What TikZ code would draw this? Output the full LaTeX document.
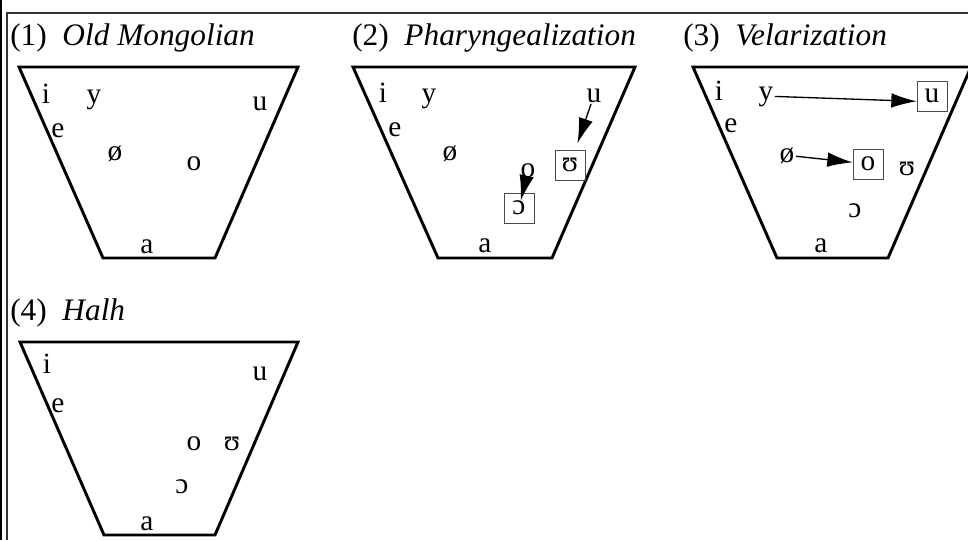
\documentclass[tikz,border=0pt]{standalone}
\usepackage{fontspec}
\setmainfont{Liberation Serif}
\usetikzlibrary{arrows.meta}

\begin{document}
\begin{tikzpicture}[x=0.75pt, y=-0.75pt,
  font=\fontsize{22}{26}\selectfont,
  chart/.style={draw, line width=2.2pt, line join=miter},
  vowel/.style={anchor=base, inner sep=1pt},
  shifted/.style={draw=black!70, line width=0.5pt, minimum size=22.5pt, inner sep=0pt},
  title/.style={anchor=base west, inner sep=0pt, font=\fontsize{23.5}{28}\selectfont},
  arr/.style={-{Latex[length=19pt,width=11pt]}, line width=1pt}
]
\useasboundingbox (0,0) rectangle (968,540);
% frame
\draw[line width=1pt] (1,0) -- (1,540);
\draw[black!80, line width=0.8pt] (7,540) -- (7,13) -- (968,13);

% (1) Old Mongolian
\node[title] (t1) at (10,45) {(1)\enspace\textit{Old Mongolian}};
\draw[chart] (19,67) -- (298,67) -- (215,258) -- (103,258) -- cycle;
\node[vowel] (p1i)  at (46,103)  {i};
\node[vowel] (p1y)  at (94,103)  {y};
\node[vowel] (p1u)  at (260,110) {u};
\node[vowel] (p1e)  at (58,137)  {e};
\node[vowel] (p1oe) at (115,160) {ø};
\node[vowel] (p1o)  at (194,170) {o};
\node[vowel] (p1a)  at (147,253) {a};

% (2) Pharyngealization
\node[title] (t2) at (352,45) {(2)\enspace\textit{Pharyngealization}};
\draw[chart] (353,67) -- (635,67) -- (552,258) -- (438,258) -- cycle;
\node[vowel] (p2i)  at (383,102) {i};
\node[vowel] (p2y)  at (429,102) {y};
\node[vowel] (p2u)  at (594,102) {u};
\node[vowel] (p2e)  at (395,136) {e};
\node[vowel] (p2oe) at (450,160) {ø};
\node[vowel] (p2o)  at (528,177) {o};
\node[shifted] (p2U) at (570,165) {ʊ};
\node[shifted] (p2c) at (519,208) {ɔ};
\node[vowel] (p2a)  at (485,252) {a};
\draw[arr, shorten >=5pt] (p2u) -- (p2U);
\draw[arr, shorten >=-6pt] (p2o) -- (p2c);

% (3) Velarization
\node[title] (t3) at (683,45) {(3)\enspace\textit{Velarization}};
\draw[chart] (693,67) -- (971,67) -- (888,258) -- (777,258) -- cycle;
\node[vowel] (p3i)  at (719,100) {i};
\node[vowel] (p3y)  at (766,100) {y};
\node[vowel] (p3e)  at (731,132) {e};
\node[vowel] (p3oe) at (787,162) {ø};
\node[vowel] (p3U)  at (907,175) {ʊ};
\node[vowel] (p3c)  at (855,217) {ɔ};
\node[vowel] (p3a)  at (821,252) {a};
\node[shifted] (p3u) at (932,96)  {u};
\node[shifted] (p3o) at (868,164) {o};
\draw[arr] (p3y.east) -- ([yshift=-4pt]p3u.west);
\draw[arr] (p3oe) -- (p3o);

% (4) Halh
\node[title] (t4) at (10,320) {(4)\enspace\textit{Halh}};
\draw[chart] (20,342) -- (298,342) -- (215,535) -- (104,535) -- cycle;
\node[vowel] (p4i)  at (47,373)  {i};
\node[vowel] (p4u)  at (260,380) {u};
\node[vowel] (p4e)  at (58,412)  {e};
\node[vowel] (p4o)  at (194,450) {o};
\node[vowel] (p4U)  at (232,450) {ʊ};
\node[vowel] (p4c)  at (182,493) {ɔ};
\node[vowel] (p4a)  at (147,530) {a};
\end{tikzpicture}
\end{document}
